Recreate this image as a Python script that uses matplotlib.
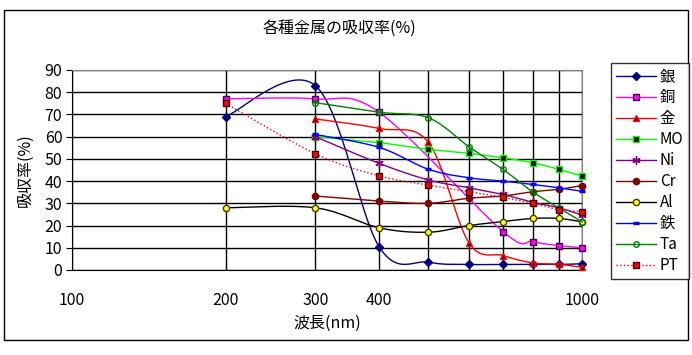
import numpy as np
import matplotlib.pyplot as plt
from matplotlib.patches import Rectangle

plt.rcParams['font.family'] = ['Noto Sans CJK JP', 'DejaVu Sans']

# wavelengths (nm)
wl = [200, 300, 400, 500, 600, 700, 800, 900, 1000]
wl_300 = [300, 400, 500, 600, 700, 800, 900, 1000]
wl_cu = [200, 300, 400, 700, 800, 900, 1000]

# absorption (%)
ag = [69, 83, 10.5, 3.5, 2.5, 2.5, 2.5, 2.5, 2.8]
cu = [77, 77, 71, 17.3, 12.8, 11, 10]
au = [68, 63.7, 57.4, 12.3, 6.5, 3.2, 2.6, 1.2]
mo = [60, 57.3, 54.3, 52.5, 50.5, 48.3, 45.3, 42.3]
ni = [60, 48, 40.5, 37, 34, 30.5, 28, 24.7]
cr = [33.3, 31, 30, 32.3, 33.3, 35.2, 36.3, 38]
al = [28, 28, 19, 17, 20, 21.8, 23.2, 23.2, 21.7]
fe = [61, 55.2, 45.3, 41.5, 40, 38.5, 37, 35.4]
ta = [75.3, 71, 68.5, 55.5, 45.3, 35.2, 28, 21.7]
pt = [75, 52.3, 42.4, 38.2, 35.3, 32.7, 30, 27.2, 26.3]

N = 30


def smooth(x, y):
    # excel-like bezier smoothing, done in screen-ish units
    u = np.log10(np.array(x, float)) * 510
    v = np.array(y, float) * 200 / 90
    pts = np.column_stack([u, v])
    P = np.vstack([pts[0], pts, pts[-1]])
    out = []
    for i in range(len(pts) - 1):
        p0, p1, p2, p3 = P[i], P[i + 1], P[i + 2], P[i + 3]
        c1 = p1 + (p2 - p0) / 6
        c2 = p2 - (p3 - p1) / 6
        last = i == len(pts) - 2
        t = np.linspace(0, 1, N + 1 if last else N, endpoint=last)[:, None]
        seg = (1 - t) ** 3 * p1 + 3 * (1 - t) ** 2 * t * c1 + 3 * (1 - t) * t ** 2 * c2 + t ** 3 * p2
        out.append(seg)
    c = np.vstack(out)
    return 10 ** (c[:, 0] / 510), c[:, 1] * 90 / 200


series = [
    ("銀", wl, ag, dict(color="#000080", ls="-", marker="D", ms=4, mfc="#000080", mec="#000080")),
    ("銅", wl_cu, cu, dict(color="#FF00FF", ls="-", marker="s", ms=5, mfc="#FF00FF", mec="#400040")),
    ("金", wl_300, au, dict(color="#FF0000", ls="-", marker="^", ms=5, mfc="#400000", mec="#FF0000")),
    ("MO", wl_300, mo, dict(color="#00FF00", ls="-", marker="s", ms=5, mfc="#000000", mec="#00FF00")),
    ("Ni", wl_300, ni, dict(color="#800080", ls="-", marker=(6, 2, 0), ms=6, mec="#800080")),
    ("Cr", wl_300, cr, dict(color="#800000", ls="-", marker="o", ms=4.5, mfc="#800000", mec="#800000")),
    ("Al", wl, al, dict(color="#000000", ls="-", marker="o", ms=4.5, mfc="#FFFF00", mec="#404000")),
    ("鉄", wl_300, fe, dict(color="#0000FF", ls="-", marker="_", ms=5, mew=2.5, mec="#0000FF")),
    ("Ta", wl_300, ta, dict(color="#008000", ls="-", marker="o", ms=4, mfc="none", mec="#008000")),
    ("PT", wl, pt, dict(color="#FF0000", ls=":", marker="s", ms=5, mfc="#FF0000", mec="#400000")),
]

fig = plt.figure(figsize=(6.92, 3.55), dpi=100)
fig.patches.append(Rectangle((4 / 692, 15 / 355), 684 / 692, 330 / 355, transform=fig.transFigure,
                             fill=False, ec="black", lw=1))
ax = fig.add_axes([72 / 692, 85 / 355, 510 / 692, 200 / 355])

for name, x, y, st in series:
    sx, sy = smooth(x, y)
    ax.plot(sx, sy, lw=1.0, markevery=[i * N for i in range(len(x))], clip_on=False,
            label=name, zorder=3, **st)

ax.set_xscale("log")
ax.set_xlim(100, 1000)
ax.set_ylim(0, 90)
ax.set_xticks(range(100, 1001, 100))
ax.set_xticklabels(["100", "200", "300", "400", "", "", "", "", "", "1000"])
ax.xaxis.set_minor_locator(plt.NullLocator())
ax.set_yticks(range(0, 91, 10))
ax.tick_params(axis="x", length=0, pad=16, labelsize=11.5)
ax.tick_params(axis="y", length=4, pad=3, labelsize=11.5)
ax.set_axisbelow(True)
ax.grid(True, color="black", lw=1)
for s in ["top", "right"]:
    ax.spines[s].set_color("#808080")
for s in ["left", "bottom"]:
    ax.spines[s].set_color("black")

ax.set_xlabel("波長(nm)", fontsize=11.5, labelpad=4)
ax.set_ylabel("吸収率(%)", fontsize=11.5, labelpad=8)
fig.text(339 / 692, 1 - 28 / 355, "各種金属の吸収率(%)", ha="center", va="center", fontsize=11.5)

leg = fig.legend(loc="upper left", bbox_to_anchor=(611 / 692, 1 - 63 / 355), fontsize=11,
                 frameon=True, fancybox=False, edgecolor="black", numpoints=1,
                 handlelength=2.6, labelspacing=0.26, borderpad=0.35, handletextpad=0.25,
                 borderaxespad=0)
leg.get_frame().set_linewidth(1)

fig.savefig("out.png", dpi=100)
